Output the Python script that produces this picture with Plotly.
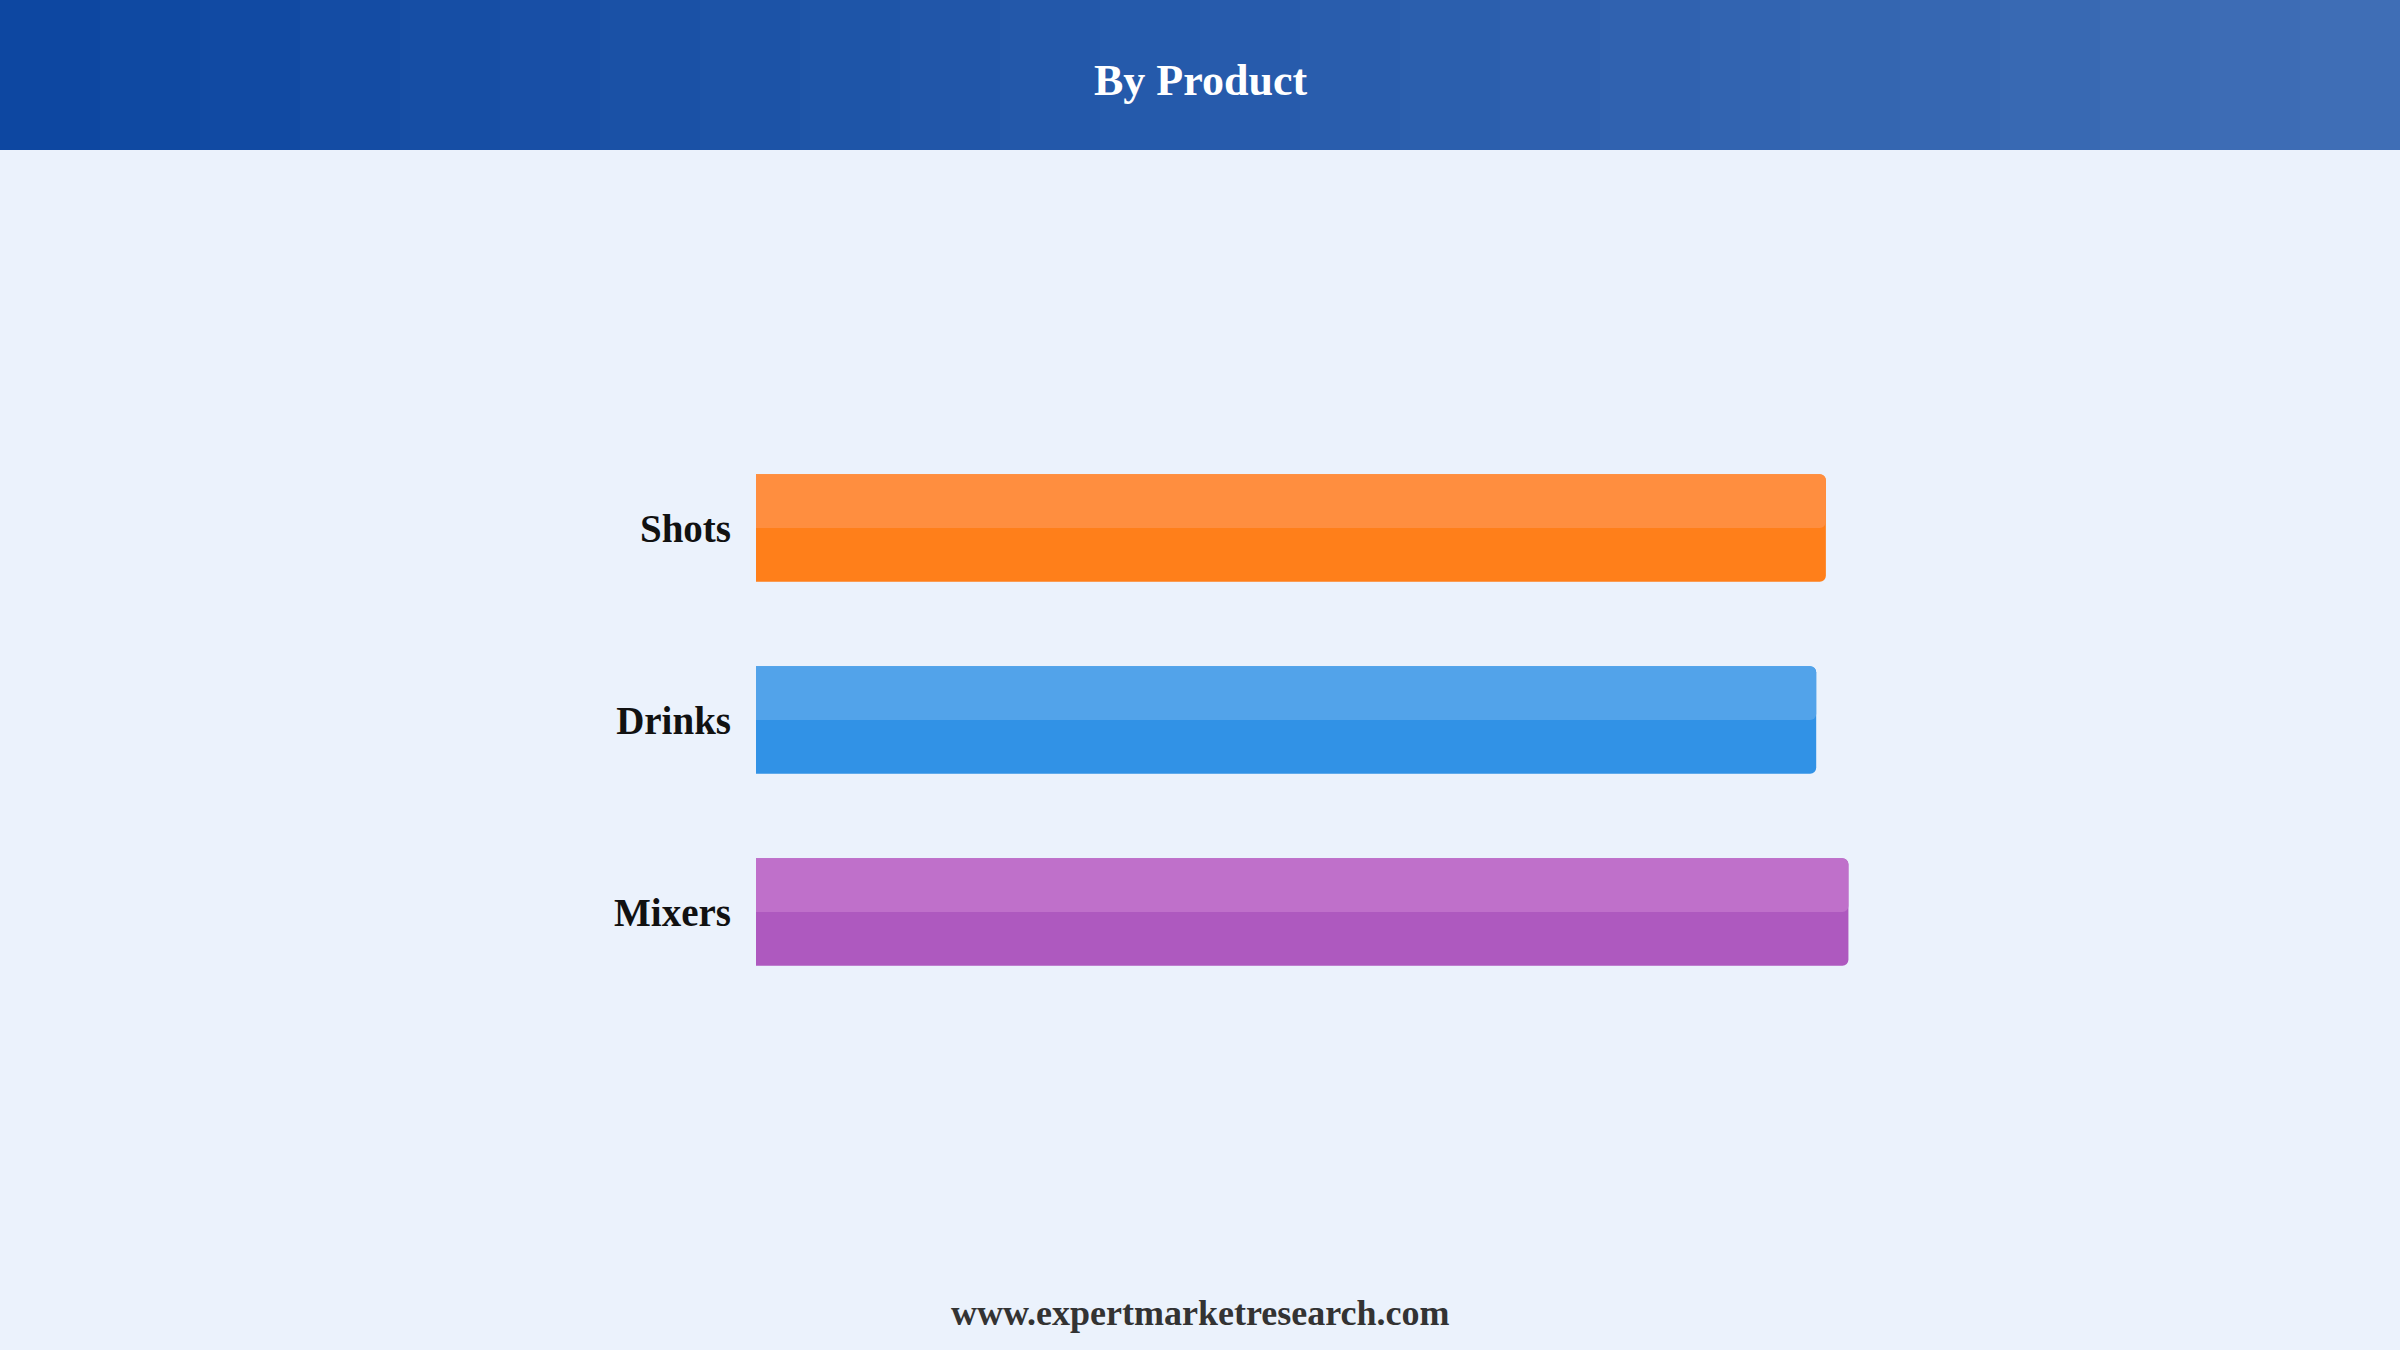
import plotly.graph_objects as go

# market share by product (%)
products = ["Shots", "Drinks", "Mixers"]
shares = [33.2, 32.9, 33.9]
dark_colors = ["#FF7F1A", "#3192E6", "#AE59BF"]
light_colors = ["#FF8E3F", "#52A3EA", "#BF70CA"]

title = "By Product"
source = "www.expertmarketresearch.com"

serif = "Liberation Serif, Times New Roman, serif"

W, H = 2400, 1350
ML, MR, MT, MB = 756, 355, 432, 342
plot_w = W - ML - MR
plot_h = H - MT - MB

fig = go.Figure()

# full bar
fig.add_trace(go.Bar(
    y=products, x=shares, orientation="h",
    width=0.56,
    marker=dict(color=dark_colors, cornerradius=6, line=dict(width=0)),
    hoverinfo="skip", showlegend=False,
))
# lighter upper half
fig.add_trace(go.Bar(
    y=products, x=shares, orientation="h",
    width=0.28, offset=-0.28,
    marker=dict(color=light_colors, cornerradius=6, line=dict(width=0)),
    hoverinfo="skip", showlegend=False,
))

# header gradient as stripes across the page top
left = (13, 71, 161)
right = (63, 110, 182)
n = 24
x_start = -ML / plot_w
x_span = W / plot_w
for i in range(n):
    t = i / (n - 1)
    c = tuple(round(left[k] + (right[k] - left[k]) * t) for k in range(3))
    fig.add_shape(
        type="rect", xref="paper", yref="paper",
        x0=x_start + i * x_span / n, x1=x_start + (i + 1) * x_span / n + 0.002,
        y0=1 + (MT - 150) / plot_h, y1=1 + MT / plot_h + 0.01,
        fillcolor="rgb(%d,%d,%d)" % c, line=dict(width=0), layer="below",
    )

cx = (W / 2 - ML) / plot_w

fig.update_layout(
    width=W, height=H,
    margin=dict(l=ML, r=MR, t=MT, b=MB),
    paper_bgcolor="#EBF2FC",
    plot_bgcolor="#EBF2FC",
    barmode="overlay",
    xaxis=dict(range=[0, 40], visible=False, fixedrange=True),
    yaxis=dict(
        autorange="reversed",
        tickmode="array",
        tickvals=products,
        ticktext=["<b>%s</b>" % p for p in products],
        tickfont=dict(family=serif, size=39, color="#111111"),
        ticks="", showline=False, showgrid=False, zeroline=False,
        ticklabelstandoff=24,
        fixedrange=True,
    ),
    annotations=[
        dict(text="<b>%s</b>" % title, xref="paper", yref="paper",
             x=cx, y=1 + (MT - 80) / plot_h, xanchor="center", yanchor="middle",
             showarrow=False, font=dict(family=serif, size=44, color="white")),
        dict(text="<b>%s</b>" % source, xref="paper", yref="paper",
             x=cx, y=-(1313 - (H - MB)) / plot_h, xanchor="center", yanchor="middle",
             showarrow=False, font=dict(family=serif, size=36, color="#333333")),
    ],
)

fig.write_html("out.html", config={"displayModeBar": False},
               post_script="document.body.style.margin='0';")
